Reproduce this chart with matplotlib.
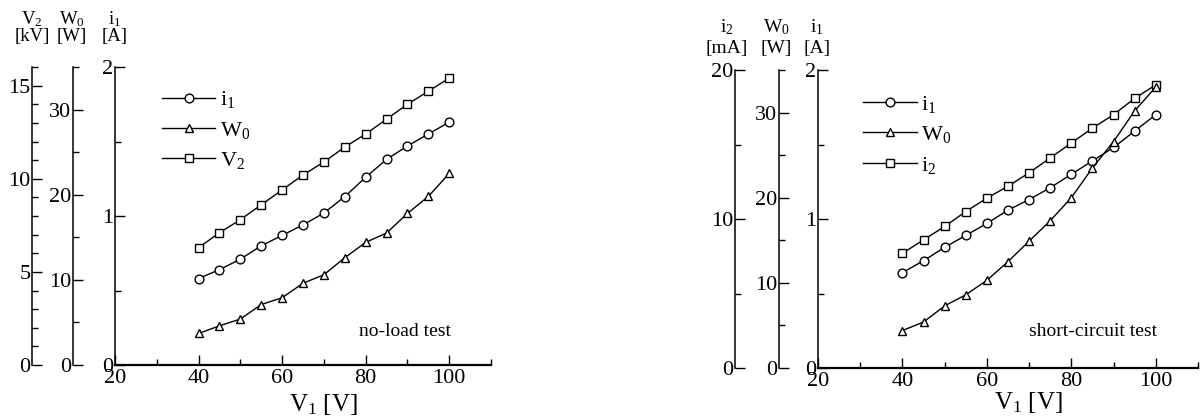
import matplotlib
matplotlib.use("Agg")
import matplotlib.pyplot as plt
from matplotlib.lines import Line2D
from matplotlib.ticker import MultipleLocator

plt.rcParams['font.family'] = ['Liberation Serif', 'DejaVu Serif']
plt.rcParams['mathtext.fontset'] = 'custom'
plt.rcParams['mathtext.rm'] = 'Liberation Serif'
plt.rcParams['mathtext.it'] = 'Liberation Serif:italic'
plt.rcParams['mathtext.default'] = 'rm'

# primary voltage steps [V]
v1 = [40, 45, 50, 55, 60, 65, 70, 75, 80, 85, 90, 95, 100]

# no-load test
noload_i1 = [0.58, 0.64, 0.71, 0.80, 0.87, 0.94, 1.02, 1.13, 1.26, 1.38, 1.47, 1.55, 1.63]   # [A]
noload_w0 = [3.7, 4.6, 5.4, 7.1, 7.9, 9.6, 10.6, 12.6, 14.4, 15.5, 17.8, 19.8, 22.5]          # [W]
noload_v2 = [6.3, 7.1, 7.8, 8.6, 9.4, 10.2, 10.9, 11.7, 12.4, 13.2, 14.0, 14.7, 15.4]         # [kV]

# short-circuit test
short_i1 = [0.64, 0.72, 0.81, 0.89, 0.97, 1.06, 1.13, 1.21, 1.30, 1.39, 1.48, 1.59, 1.70]    # [A]
short_w0 = [4.4, 5.4, 7.3, 8.6, 10.3, 12.5, 14.9, 17.3, 20.0, 23.5, 26.6, 30.2, 33.0]         # [W]
short_i2 = [7.7, 8.6, 9.5, 10.5, 11.4, 12.2, 13.1, 14.1, 15.1, 16.1, 17.0, 18.1, 19.0]        # [mA]

x_ticks = [20, 40, 60, 80, 100]
x_minor = [30, 50, 70, 90, 110]

W, H = 1201, 418
fig = plt.figure(figsize=(W / 100, H / 100), dpi=100)

TICK_FS = 16
LINE_KW = dict(color='black', lw=1.0, markersize=6.3, markerfacecolor='white',
               markeredgecolor='black', markeredgewidth=1.0)


def rect_px(x0, x1, ytop, ybot):
    return [x0 / W, 1 - ybot / H, (x1 - x0) / W, (ybot - ytop) / H]


def style_y(ax, major, minor_step, lim):
    ax.set_ylim(0, lim)
    ax.set_yticks(major)
    ax.yaxis.set_minor_locator(MultipleLocator(minor_step))
    ax.tick_params(axis='y', which='major', direction='in', length=7, width=1,
                   labelsize=TICK_FS, pad=1)
    ax.tick_params(axis='y', which='minor', direction='in', length=4, width=1)
    ax.spines['left'].set_linewidth(1.1)


def extra_axis(main, offset, major, minor_step, lim):
    ax = fig.add_axes(main.get_position(), sharex=main)
    ax.patch.set_visible(False)
    for s in ('top', 'right', 'bottom'):
        ax.spines[s].set_visible(False)
    ax.spines['left'].set_position(('axes', offset))
    ax.xaxis.set_visible(False)
    style_y(ax, major, minor_step, lim)
    return ax


def panel(rect, data, axes_spec, labels, note, note_xy, legend_xy):
    ax = fig.add_axes(rect)
    ax.patch.set_visible(False)
    ax.set_xlim(20, 110)
    ax.set_xticks(x_ticks)
    ax.set_xticks(x_minor, minor=True)
    ax.tick_params(axis='x', which='major', direction='in', length=7, width=1,
                   labelsize=TICK_FS, pad=3)
    ax.tick_params(axis='x', which='minor', direction='in', length=4, width=1)
    ax.spines['top'].set_visible(False)
    ax.spines['right'].set_visible(False)
    ax.spines['bottom'].set_linewidth(1.6)
    style_y(ax, [0, 1, 2], 0.5, 2)

    axes = [ax]
    for offset, major, minor_step, lim in axes_spec:
        axes.append(extra_axis(ax, offset, major, minor_step, lim))

    # axes order: main (i1), outer (V2 / i2), middle (W0)
    markers = ['o', '^', 's']
    targets = [axes[0], axes[2], axes[1]]
    handles = []
    for series, m, tax in zip(data, markers, targets):
        tax.plot(v1, series, marker=m, **LINE_KW)
        handles.append(Line2D([], [], marker=m, **LINE_KW))

    ax.legend(handles, labels, loc='upper left', bbox_to_anchor=legend_xy,
              frameon=False, fontsize=16, handlelength=2.4, handletextpad=0.2,
              labelspacing=0.42, borderpad=0, borderaxespad=0)
    ax.text(note_xy[0], note_xy[1], note, transform=ax.transAxes, fontsize=14,
            ha='center', va='center')
    ax.set_xlabel('V$_1$ [V]', fontsize=18)
    return axes


# no-load test panel
left = panel(rect_px(115, 491, 67, 365),
             [noload_i1, noload_w0, noload_v2],
             [(-0.221, [0, 5, 10, 15], 1, 16), (-0.112, [0, 10, 20, 30], 5, 35)],
             ['i$_1$', 'W$_0$', 'V$_2$'], 'no-load test', (0.771, 0.114),
             (0.125, 0.925))
left[0].xaxis.set_label_coords(0.555, -0.092)

# short-circuit test panel
right = panel(rect_px(818, 1198, 70, 368),
              [short_i1, short_w0, short_i2],
              [(-0.219, [0, 10, 20], 5, 20), (-0.103, [0, 10, 20, 30], 5, 35)],
              ['i$_1$', 'W$_0$', 'i$_2$'], 'short-circuit test', (0.723, 0.121),
              (0.119, 0.92))
right[0].xaxis.set_label_coords(0.554, -0.075)

# quantity / unit headings above each vertical axis
heads = [
    (32, 19, 'V$_2$', 36, '[kV]', 13.5),
    (72, 19, 'W$_0$', 36, '[W]', 13.5),
    (115, 19, 'i$_1$', 36, '[A]', 13.5),
    (727, 27, 'i$_2$', 48, '[mA]', 14),
    (776, 27, 'W$_0$', 48, '[W]', 14),
    (817, 27, 'i$_1$', 48, '[A]', 14),
]
for x, y1, q, y2, u, fs in heads:
    fig.text(x / W, 1 - y1 / H, q, fontsize=fs, ha='center', va='center')
    fig.text(x / W, 1 - y2 / H, u, fontsize=fs, ha='center', va='center')

fig.savefig('out.png', dpi=100)
